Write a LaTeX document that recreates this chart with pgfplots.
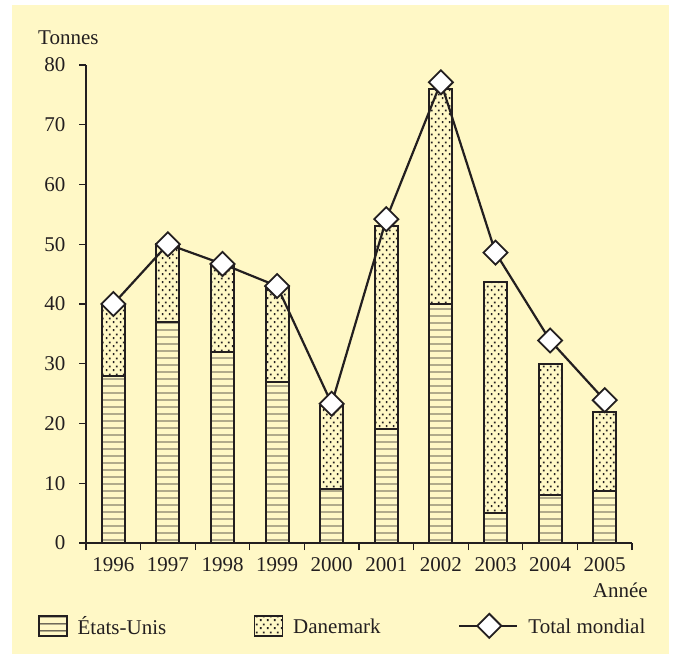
\documentclass[border=0pt]{standalone}
\usepackage{fontspec}
\setmainfont{Liberation Serif}
\usepackage{pgfplots}
\usepackage{pgfplotstable}
\pgfplotsset{compat=1.18}
\usetikzlibrary{patterns}
\definecolor{panel}{RGB}{255,248,198}
\definecolor{ink}{RGB}{35,31,32}
\pgfdeclarepatternformonly{hl}{\pgfpointorigin}{\pgfqpoint{10bp}{6.5bp}}{\pgfqpoint{10bp}{6.5bp}}{%
  \pgfsetlinewidth{1bp}%
  \pgfpathmoveto{\pgfqpoint{-1bp}{3.25bp}}\pgfpathlineto{\pgfqpoint{11bp}{3.25bp}}\pgfusepath{stroke}}
\pgfdeclarepatternformonly{dd}{\pgfpointorigin}{\pgfqpoint{7bp}{7.6bp}}{\pgfqpoint{7bp}{7.6bp}}{%
  \pgfpathrectangle{\pgfqpoint{0.9bp}{1bp}}{\pgfqpoint{1.9bp}{1.9bp}}%
  \pgfpathrectangle{\pgfqpoint{4.4bp}{4.8bp}}{\pgfqpoint{1.9bp}{1.9bp}}%
  \pgfusepath{fill}}
\pgfplotstableread{
x us dk total
0 28 12 40
1 37 13 50
2 32 14.7 46.7
3 27 16 43
4 9 14 23.3
5 19 34 54.2
6 40 36 77.1
7 5 38.7 48.6
8 8 22 33.9
9 8.7 13.3 23.9
}\datatable
\newcommand{\lbl}{\fontsize{21bp}{25bp}\selectfont}
\begin{document}
\begin{tikzpicture}
\fill[white] (0,0) rectangle (674bp,660bp);
\fill[panel] (12bp,6bp) rectangle (669bp,655bp);
\begin{axis}[
  at={(86bp,117bp)}, anchor=south west,
  scale only axis, width=546bp, height=478bp,
  xmin=-0.5, xmax=9.5, ymin=0, ymax=80,
  enlargelimits=false, clip=false,
  ybar stacked, bar width=23bp,
  axis x line*=bottom, axis y line*=left,
  axis line style={-, ink, line width=1.6bp},
  xtick={0,...,9},
  xticklabels={1996,1997,1998,1999,2000,2001,2002,2003,2004,2005},
  major x tick style={draw=none},
  minor xtick={-0.5,0.5,...,9.5},
  ytick={0,10,...,80},
  tick align=outside,
  major tick length=7bp, minor tick length=7bp,
  tick style={ink, line width=1.2bp},
  tick label style={font=\lbl, text=ink},
  xticklabel style={yshift=-4bp},
  yticklabel style={xshift=-10bp},
  /pgf/number format/assume math mode=true,
  legend columns=3,
  legend cell align=left,
  legend style={at={(-0.0879,-0.1733)}, anchor=west, draw=none, fill=none,
    inner sep=0pt, outer sep=0pt,
    nodes={inner sep=0pt, font=\lbl, text=ink},
    /tikz/every odd column/.style={column sep=10bp},
    /tikz/every even column/.style={column sep=0bp}},
]
\addplot[draw=ink, line width=2bp, pattern=hl, pattern color=ink,
  legend image code/.code={\draw[draw=ink, line width=1.6bp, pattern=hl, pattern color=ink] (0bp,-10bp) rectangle (28bp,10bp);}]
  table[x=x, y=us]{\datatable};
\addlegendentry{\makebox[176bp][l]{\strut États-Unis}}
\addplot[draw=ink, line width=2bp, pattern=dd, pattern color=ink,
  legend image code/.code={\draw[draw=ink, line width=1.6bp, pattern=dd, pattern color=ink] (0bp,-10bp) rectangle (28bp,10bp);}]
  table[x=x, y=dk]{\datatable};
\addlegendentry{\makebox[165bp][l]{\strut Danemark}}
\addlegendimage{legend image code/.code={%
  \draw[ink, line width=2.2bp] (0bp,0bp) -- (58bp,0bp);
  \draw[ink, line width=1.8bp, fill=white, rotate around={45:(30bp,0bp)}] (30bp,0bp) ++(-8.5bp,-8.5bp) rectangle ++(17bp,17bp);}}
\addlegendentry{\strut Total mondial}
\node[anchor=base west, font=\lbl, text=ink, inner sep=0pt] at (axis description cs:-0.0879,1.0428) {Tonnes};
\node[anchor=base east, font=\lbl, text=ink, inner sep=0pt] at (axis description cs:1.0293,-0.1148) {Année};
\end{axis}
\begin{axis}[
  at={(86bp,117bp)}, anchor=south west,
  scale only axis, width=546bp, height=478bp,
  xmin=-0.5, xmax=9.5, ymin=0, ymax=80,
  enlargelimits=false, clip=false, hide axis,
]
\addplot[ink, line width=2.2bp, mark=square*, mark size=8.5bp,
  mark options={rotate=45, fill=white, draw=ink, line width=1.8bp, solid}]
  table[x=x, y=total]{\datatable};
\end{axis}
\pgfresetboundingbox
\path[use as bounding box] (0,0) rectangle (674bp,660bp);
\end{tikzpicture}
\end{document}
